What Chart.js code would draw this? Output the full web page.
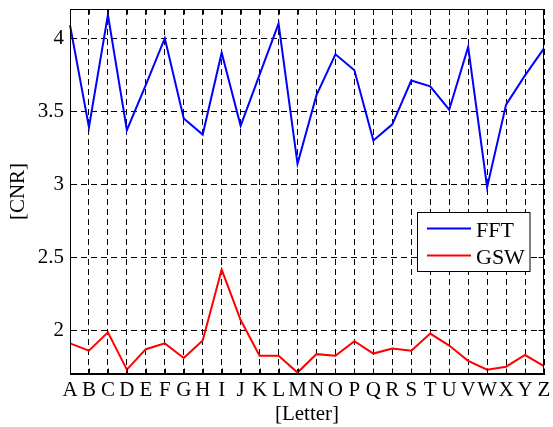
<!DOCTYPE html>
<html><head><meta charset="utf-8">
<script src="https://cdn.jsdelivr.net/npm/chart.js@4/dist/chart.umd.min.js"></script>
<style>html,body{margin:0;padding:0;background:#fff}</style>
</head><body>
<canvas id="c" width="553" height="427" style="width:553px;height:427px;display:block"></canvas>
<script>
const letters = ['A','B','C','D','E','F','G','H','I','J','K','L','M','N','O','P','Q','R','S','T','U','V','W','X','Y','Z'];
const fftValues = [4.09,3.39,4.16,3.37,3.68,4.00,3.45,3.34,3.90,3.40,3.75,4.10,3.14,3.61,3.89,3.78,3.30,3.41,3.71,3.67,3.51,3.94,2.98,3.545,3.745,3.93];
const gswValues = [1.91,1.86,1.985,1.73,1.87,1.91,1.81,1.93,2.415,2.07,1.825,1.825,1.71,1.836,1.825,1.925,1.84,1.875,1.86,1.977,1.895,1.79,1.73,1.75,1.83,1.754];
const yTicks = [2, 2.5, 3, 3.5, 4];
const seriesNames = ['FFT', 'GSW'];
const seriesColors = ['#0000ff', '#ff0000'];

const serif = 'Liberation Serif, Times New Roman, serif';
const tickFont = {family: serif, size: 21};

const framePlugin = {
  id: 'frame',
  afterDraw(chart) {
    const {ctx, chartArea: a, scales} = chart;
    ctx.save();
    ctx.strokeStyle = '#000';
    ctx.lineWidth = 1;
    const L = Math.round(a.left) + 0.5, R = Math.round(a.right) - 0.5;
    const T = Math.round(a.top) + 0.5, B = Math.round(a.bottom) - 0.5;
    ctx.strokeRect(L, T, R - L, B - T);
    const tl = 5;
    ctx.beginPath();
    scales.y.ticks.forEach(t => {
      const y = Math.round(scales.y.getPixelForValue(t.value)) + 0.5;
      ctx.moveTo(L, y); ctx.lineTo(L + tl, y);
      ctx.moveTo(R, y); ctx.lineTo(R - tl, y);
    });
    scales.x.ticks.forEach((t, i) => {
      const x = Math.round(scales.x.getPixelForTick(i)) + 0.5;
      ctx.moveTo(x, B); ctx.lineTo(x, B - tl);
      ctx.moveTo(x, T); ctx.lineTo(x, T + tl);
    });
    ctx.stroke();
    // legend
    const bx = 417.5, by = 212.5, bw = 112.5, bh = 59;
    ctx.fillStyle = '#fff';
    ctx.fillRect(bx, by, bw, bh);
    ctx.strokeRect(bx, by, bw, bh);
    const rows = [228.5, 255.5];
    ctx.font = '22px ' + serif;
    ctx.textBaseline = 'alphabetic';
    ctx.textAlign = 'left';
    chart.data.datasets.forEach((ds, i) => {
      ctx.strokeStyle = ds.borderColor;
      ctx.lineWidth = 2;
      ctx.beginPath();
      ctx.moveTo(427, rows[i]); ctx.lineTo(471, rows[i]);
      ctx.stroke();
      ctx.fillStyle = '#000';
      ctx.fillText(ds.label, 476, rows[i] + 8.5);
    });
    ctx.restore();
  }
};

new Chart(document.getElementById('c'), {
  type: 'line',
  data: {
    labels: letters,
    datasets: [
      {label: seriesNames[0], data: fftValues, borderColor: seriesColors[0], backgroundColor: seriesColors[0], borderWidth: 2, pointRadius: 0, tension: 0, fill: false},
      {label: seriesNames[1], data: gswValues, borderColor: seriesColors[1], backgroundColor: seriesColors[1], borderWidth: 2, pointRadius: 0, tension: 0, fill: false}
    ]
  },
  options: {
    responsive: false,
    devicePixelRatio: 1,
    animation: false,
    layout: {padding: {left: 0, right: 9, top: 9, bottom: 0}},
    plugins: {legend: {display: false}, tooltip: {enabled: false}},
    scales: {
      x: {
        type: 'category',
        offset: false,
        grid: {color: '#000', lineWidth: 1, drawTicks: false},
        border: {display: true, color: '#000', width: 1, dash: [6, 4]},
        ticks: {autoSkip: false, maxRotation: 0, minRotation: 0, padding: 4, color: '#000', font: tickFont},
        title: {display: true, text: '[Letter]', color: '#000', font: {family: serif, size: 21}, padding: {top: 0, bottom: 0}},
        afterFit: s => { s.height = 53; s.paddingLeft = 0; s.paddingRight = 0; }
      },
      y: {
        min: 1.7,
        max: 4.2,
        afterBuildTicks: s => { s.ticks = yTicks.map(v => ({value: v})); },
        grid: {color: '#000', lineWidth: 1, drawTicks: false},
        border: {display: true, color: '#000', width: 1, dash: [6, 4]},
        ticks: {padding: 6, color: '#000', font: tickFont, callback: v => String(v)},
        title: {display: true, text: '[CNR]', color: '#000', font: {family: serif, size: 21}, padding: {top: 6, bottom: 0}},
        afterFit: s => { s.width = 70; s.paddingTop = 0; s.paddingBottom = 0; }
      }
    }
  },
  plugins: [framePlugin]
});
</script>
</body></html>
